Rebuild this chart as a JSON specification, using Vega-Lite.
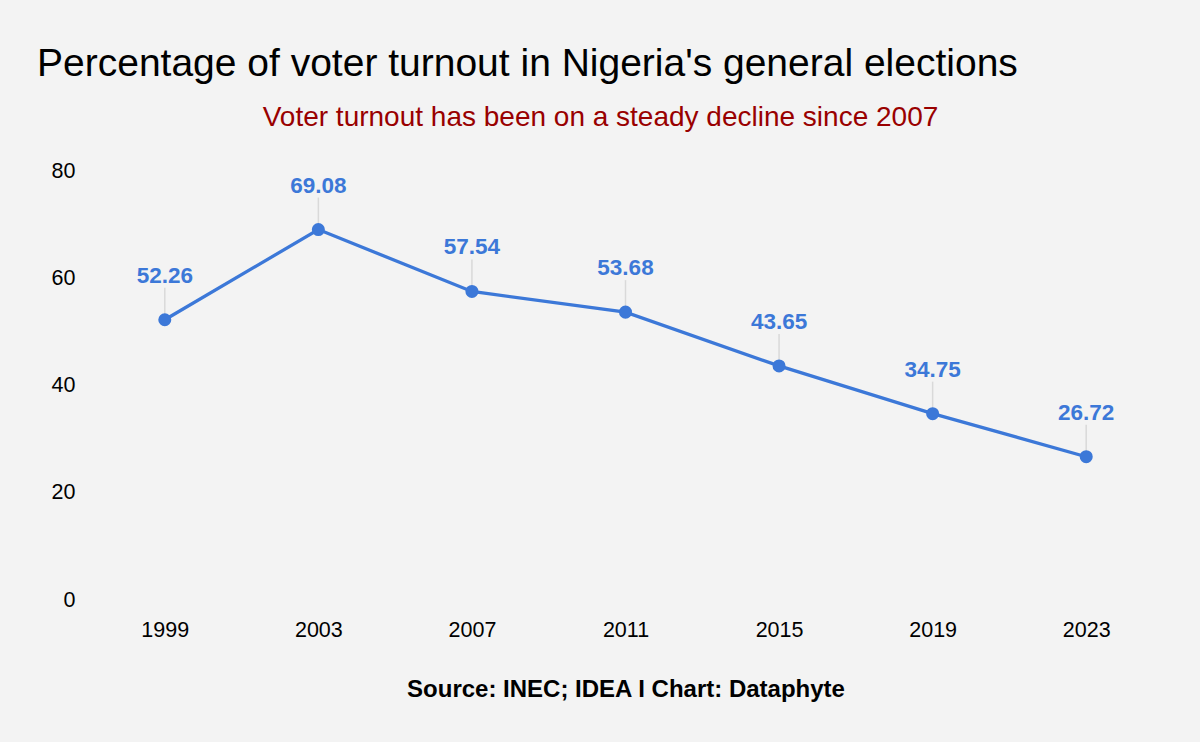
{
  "$schema": "https://vega.github.io/schema/vega-lite/v6.json",
  "width": 1075,
  "height": 429,
  "autosize": {"type": "none"},
  "padding": {"left": 88, "top": 171, "right": 37, "bottom": 142},
  "background": "#f3f3f3",
  "title": {
    "text": "Percentage of voter turnout in Nigeria's general elections",
    "anchor": "start",
    "frame": "group",
    "dx": -51,
    "font": "Liberation Sans",
    "fontSize": 39,
    "fontWeight": "normal",
    "color": "#000000",
    "offset": 19
  },
  "config": {
    "view": {"stroke": null},
    "font": "Liberation Sans"
  },
  "data": {
    "values": [
      {"year": "1999", "turnout": 52.26},
      {"year": "2003", "turnout": 69.08},
      {"year": "2007", "turnout": 57.54},
      {"year": "2011", "turnout": 53.68},
      {"year": "2015", "turnout": 43.65},
      {"year": "2019", "turnout": 34.75},
      {"year": "2023", "turnout": 26.72}
    ]
  },
  "encoding": {
    "x": {
      "field": "year",
      "type": "ordinal",
      "scale": {"type": "point", "padding": 0.5},
      "axis": {
        "title": "Source: INEC; IDEA I Chart: Dataphyte",
        "titleFont": "Liberation Sans",
        "titleFontSize": 24,
        "titleFontWeight": "bold",
        "titleColor": "#000000",
        "titlePadding": 37,
        "labelAngle": 0,
        "labelFont": "Liberation Sans",
        "labelFontSize": 21.5,
        "labelColor": "#000000",
        "labelPadding": 19,
        "ticks": false,
        "domain": false,
        "grid": false
      }
    },
    "y": {
      "field": "turnout",
      "type": "quantitative",
      "scale": {"domain": [0, 80]},
      "axis": {
        "values": [0, 20, 40, 60, 80],
        "title": "Voter turnout has been on a steady decline since 2007",
        "titleAngle": 0,
        "titleAlign": "center",
        "titleBaseline": "alphabetic",
        "titleX": 512,
        "titleY": -46,
        "titleFont": "Liberation Sans",
        "titleFontSize": 28,
        "titleFontWeight": "normal",
        "titleColor": "#990000",
        "labelFont": "Liberation Sans",
        "labelFontSize": 21.5,
        "labelColor": "#000000",
        "labelPadding": 13,
        "ticks": false,
        "domain": false,
        "grid": false
      }
    }
  },
  "layer": [
    {
      "mark": {"type": "rule", "color": "#d9d9d9", "strokeWidth": 1.5, "y2Offset": -32},
      "encoding": {"y2": {"field": "turnout"}}
    },
    {
      "mark": {"type": "line", "color": "#3c78d8", "strokeWidth": 3.3}
    },
    {
      "mark": {"type": "circle", "color": "#3c78d8", "opacity": 1, "size": 170}
    },
    {
      "mark": {"type": "text", "color": "#3c78d8", "font": "Liberation Sans", "fontSize": 22.5, "fontWeight": "bold", "baseline": "alphabetic", "dy": -37},
      "encoding": {"text": {"field": "turnout", "type": "quantitative", "format": ".2f"}}
    }
  ]
}
